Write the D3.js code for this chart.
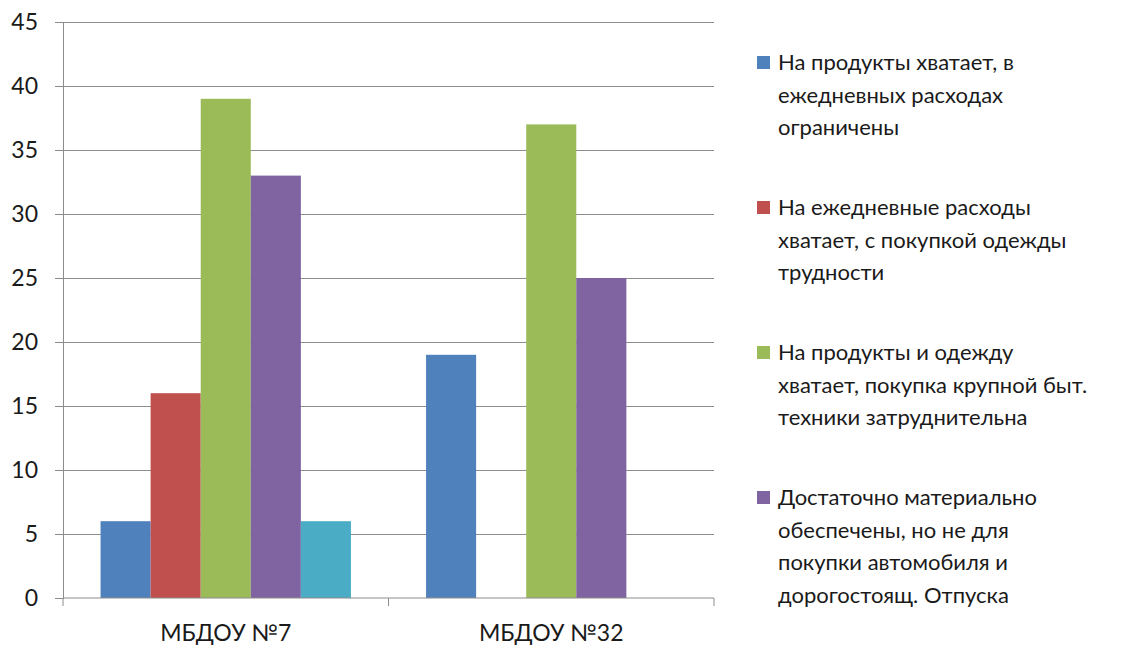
<!DOCTYPE html>
<html><head><meta charset="utf-8">
<script src="https://cdn.jsdelivr.net/npm/d3@7"></script>
<style>body{margin:0;background:#fff}svg{display:block}</style>
</head><body>
<svg id="c" width="1128" height="645"></svg>
<script>
const categories = ["МБДОУ №7", "МБДОУ №32"];
const seriesNames = [
  "На продукты хватает, в ежедневных расходах ограничены",
  "На ежедневные расходы хватает, с покупкой одежды трудности",
  "На продукты и одежду хватает, покупка крупной быт. техники затруднительна",
  "Достаточно материально обеспечены, но не для покупки автомобиля и дорогостоящ. Отпуска",
  "Ряд 5"
];
const legendLines = [
  ["На продукты хватает, в", "ежедневных расходах", "ограничены"],
  ["На ежедневные расходы", "хватает, с покупкой одежды", "трудности"],
  ["На продукты и одежду", "хватает, покупка крупной быт.", "техники затруднительна"],
  ["Достаточно материально", "обеспечены, но не для", "покупки автомобиля и", "дорогостоящ. Отпуска"]
];
const series1 = [6, 19];
const series2 = [16, 0];
const series3 = [39, 37];
const series4 = [33, 25];
const series5 = [6, 0];
const yTicks = [0, 5, 10, 15, 20, 25, 30, 35, 40, 45];
const colors = ["#4F81BD", "#C0504D", "#9BBB59", "#8064A2", "#4BACC6"];

const allSeries = [series1, series2, series3, series4, series5];
const svg = d3.select("#c");
const font = "Lato, 'Open Sans', sans-serif";
const L = 63, R = 714, T = 22, B = 598;

const x0 = d3.scaleBand().domain(categories).range([L, R]).padding(0);
const x1 = d3.scaleBand().domain(d3.range(allSeries.length)).range([0, x0.bandwidth()]).paddingInner(0).paddingOuter(0.75);
const y = d3.scaleLinear().domain([0, 45]).range([B, T]);

// gridlines
svg.append("g").selectAll("line").data(yTicks.filter(d => d > 0)).join("line")
  .attr("x1", L).attr("x2", R).attr("y1", d => y(d)).attr("y2", d => y(d))
  .attr("stroke", "#8c8c8c").attr("stroke-width", 1).attr("shape-rendering", "crispEdges");

// bars
const g = svg.append("g");
categories.forEach((c, ci) => {
  allSeries.forEach((s, si) => {
    if (s[ci] <= 0) return;
    g.append("rect")
      .attr("x", x0(c) + x1(si)).attr("width", x1.bandwidth())
      .attr("y", y(s[ci])).attr("height", y(0) - y(s[ci]))
      .attr("fill", colors[si]);
  });
});

// y axis
const yAxis = d3.axisLeft(y).tickValues(yTicks).tickSize(8).tickPadding(17);
const ya = svg.append("g").attr("transform", `translate(${L},0)`).call(yAxis);
ya.select(".domain").attr("stroke", "#8c8c8c");
ya.selectAll(".tick line").attr("stroke", "#8c8c8c");
ya.selectAll("text").attr("font-family", font).attr("font-size", 23).attr("fill", "#1a1a1a");

// x axis
const xa = svg.append("g").attr("transform", `translate(0,${B})`);
xa.append("line").attr("x1", L).attr("x2", R).attr("stroke", "#8c8c8c");
const bounds = [L, ...categories.map(c => x0(c) + x0.bandwidth())];
xa.selectAll(".tk").data(bounds).join("line").attr("class", "tk")
  .attr("x1", d => d).attr("x2", d => d).attr("y1", 0).attr("y2", 8).attr("stroke", "#8c8c8c");
xa.selectAll("text").data(categories).join("text")
  .attr("x", d => x0(d) + x0.bandwidth() / 2).attr("y", 43)
  .attr("text-anchor", "middle").attr("font-family", font).attr("font-size", 23).attr("fill", "#1a1a1a")
  .text(d => d);

// legend
const lg = svg.append("g");
legendLines.forEach((lines, i) => {
  const by = 70 + i * 145;
  lg.append("rect").attr("x", 757).attr("y", by - 14).attr("width", 13).attr("height", 13).attr("fill", colors[i]);
  lines.forEach((t, j) => {
    lg.append("text").attr("x", 778).attr("y", by + j * 32.5)
      .attr("font-family", font).attr("font-size", 22).attr("fill", "#1a1a1a").text(t);
  });
});
</script>
</body></html>
